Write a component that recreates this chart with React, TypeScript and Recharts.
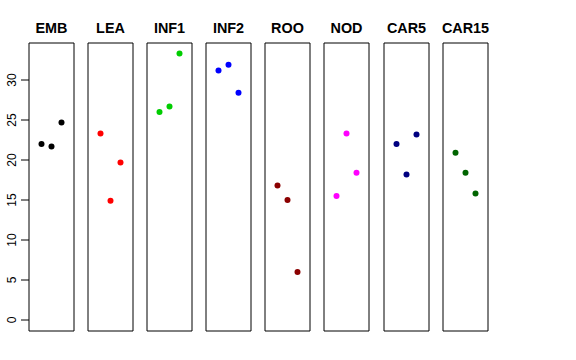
import { ReferenceArea, Scatter, ScatterChart, XAxis, YAxis } from "recharts";

const groups = ["EMB", "LEA", "INF1", "INF2", "ROO", "NOD", "CAR5", "CAR15"];
const groupColors = ["#000000", "#FF0000", "#00CD00", "#0000FF", "#8B0000", "#FF00FF", "#000080", "#006400"];

const positions = [1, 2, 3];
const emb = [22.0, 21.7, 24.7];
const lea = [23.3, 14.9, 19.7];
const inf1 = [26.0, 26.7, 33.3];
const inf2 = [31.2, 31.9, 28.4];
const roo = [16.8, 15.0, 6.0];
const nod = [15.5, 23.3, 18.4];
const car5 = [22.0, 18.2, 23.2];
const car15 = [20.9, 18.4, 15.8];

const yTicks = [0, 5, 10, 15, 20, 25, 30];

const groupValues = [emb, lea, inf1, inf2, roo, nod, car5, car15];

const X_DOMAIN: [number, number] = [-0.25, 4.25];
const Y_DOMAIN: [number, number] = [-1.375, 34.625];

const PANEL_W = 45;
const panelLefts = [29, 88, 147, 206, 265, 324, 384, 443];
const TOP = 43;
const BOTTOM = 29;
const FONT = "'Liberation Sans', Arial, Helvetica, sans-serif";

const Dot = (props: any) => {
  const { cx, cy, fill } = props;
  if (cx == null || cy == null) return null;
  return <circle cx={cx} cy={cy} r={3} fill={fill} />;
};

const RotatedTick = (props: any) => {
  const { x, y, payload } = props;
  return (
    <text
      x={x}
      y={y}
      transform={`rotate(-90, ${x}, ${y})`}
      textAnchor="middle"
      fontSize={12}
      fontFamily={FONT}
      fill="#000"
    >
      {payload.value}
    </text>
  );
};

const Panel = ({ index }: { index: number }) => {
  const first = index === 0;
  const axisW = 29;
  const pad = 2;
  const left = first ? 0 : panelLefts[index] - pad;
  const marginLeft = first ? 0 : pad;
  const width = (first ? axisW : pad) + PANEL_W + pad;
  const data = positions.map((p, i) => ({ x: p, y: groupValues[index][i] }));

  return (
    <div style={{ position: "absolute", left, top: 0 }}>
      <ScatterChart
        width={width}
        height={360}
        margin={{ top: TOP, bottom: BOTTOM, left: marginLeft, right: pad }}
      >
        <XAxis type="number" dataKey="x" domain={X_DOMAIN} hide />
        <YAxis
          type="number"
          dataKey="y"
          domain={Y_DOMAIN}
          ticks={yTicks}
          hide={!first}
          width={axisW}
          axisLine={false}
          tickSize={8}
          tickMargin={5}
          tickLine={{ stroke: "#000" }}
          tick={<RotatedTick />}
          interval={0}
        />
        <ReferenceArea
          x1={X_DOMAIN[0]}
          x2={X_DOMAIN[1]}
          y1={Y_DOMAIN[0]}
          y2={Y_DOMAIN[1]}
          fill="none"
          stroke="#000"
          strokeWidth={1}
          label={{
            value: groups[index],
            position: "top",
            offset: 10,
            fontSize: 14.4,
            fontWeight: "bold",
            fontFamily: FONT,
            fill: "#000",
          }}
        />
        <Scatter data={data} fill={groupColors[index]} shape={<Dot />} isAnimationActive={false} />
      </ScatterChart>
    </div>
  );
};

export default function App() {
  return (
    <div style={{ position: "absolute", left: 0, top: 0, width: 576, height: 360, background: "#fff" }}>
      {groups.map((g, i) => (
        <Panel key={g} index={i} />
      ))}
    </div>
  );
}
